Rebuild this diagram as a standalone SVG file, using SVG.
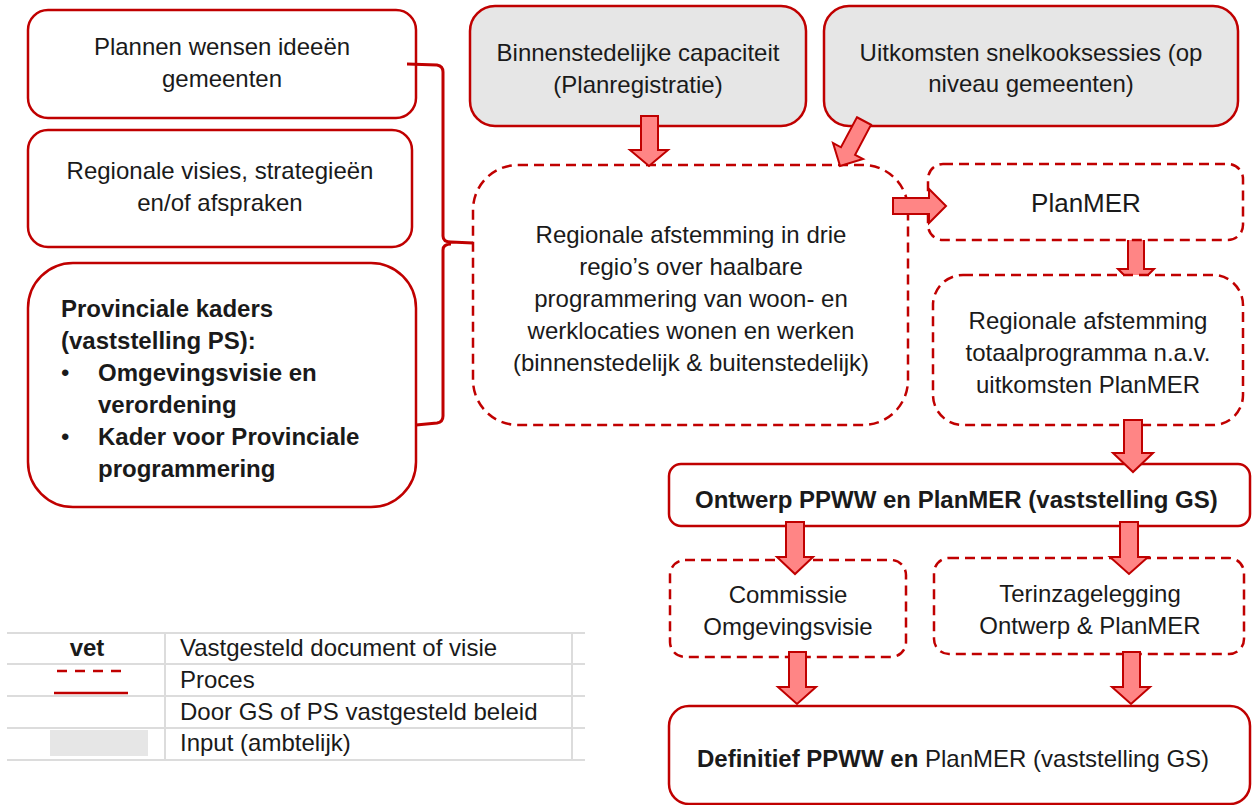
<svg xmlns="http://www.w3.org/2000/svg" width="1252" height="805" viewBox="0 0 1252 805">
<style>
.t{font-family:"Liberation Sans",Arial,sans-serif;font-size:24px;fill:#1a1a1a}
.c{text-anchor:middle}
.b{font-weight:bold}
.solid{fill:#fff;stroke:#c00000;stroke-width:2.5}
.input{fill:#e6e6e6;stroke:#c00000;stroke-width:2.5}
.dash{fill:#fff;stroke:#c00000;stroke-width:2.5;stroke-dasharray:10 6}
.arr{fill:#ff8585;stroke:#c00000;stroke-width:2;stroke-linejoin:miter}
.brace{fill:none;stroke:#c00000;stroke-width:3}
.grid{stroke:#dcdcdc;stroke-width:2}
</style>
<rect width="1252" height="805" fill="#fff"/>

<g id="connectors-under">
<polygon class="arr" points="1128,236 1144,236 1144,269 1154,269 1136,287 1118,269 1128,269"/>
</g>

<g id="n-plannen">
<rect class="solid" x="28" y="10" width="388" height="108" rx="20"/>
<text class="t c" x="222" y="55">Plannen wensen ideeën</text>
<text class="t c" x="222" y="87">gemeenten</text>
</g>
<g id="n-regionale-visies">
<rect class="solid" x="28" y="130" width="384" height="117" rx="20"/>
<text class="t c" x="220" y="179">Regionale visies, strategieën</text>
<text class="t c" x="220" y="211">en/of afspraken</text>
</g>
<g id="n-provinciale">
<rect class="solid" x="28" y="263" width="388" height="244" rx="45"/>
<text class="t b" x="61" y="317">Provinciale kaders</text>
<text class="t b" x="61" y="349">(vaststelling PS):</text>
<text class="t" x="61" y="381">•</text>
<text class="t b" x="98" y="381">Omgevingsvisie en</text>
<text class="t b" x="98" y="413">verordening</text>
<text class="t" x="61" y="445">•</text>
<text class="t b" x="98" y="445">Kader voor Provinciale</text>
<text class="t b" x="98" y="477">programmering</text>
</g>
<g id="n-binnenstedelijk">
<rect class="input" x="470" y="6" width="336" height="120" rx="25"/>
<text class="t c" x="638" y="61">Binnenstedelijke capaciteit</text>
<text class="t c" x="638" y="93">(Planregistratie)</text>
</g>
<g id="n-uitkomsten">
<rect class="input" x="824" y="6" width="414" height="120" rx="25"/>
<text class="t c" x="1031" y="61">Uitkomsten snelkooksessies (op</text>
<text class="t c" x="1031" y="92">niveau gemeenten)</text>
</g>
<g id="n-regionale-afstemming">
<rect class="dash" x="473" y="165" width="435" height="260" rx="45"/>
<text class="t c" x="691" y="243">Regionale afstemming in drie</text>
<text class="t c" x="691" y="275">regio’s over haalbare</text>
<text class="t c" x="691" y="307">programmering van woon- en</text>
<text class="t c" x="691" y="339">werklocaties wonen en werken</text>
<text class="t c" x="691" y="371">(binnenstedelijk &amp; buitenstedelijk)</text>
</g>
<g id="n-planmer">
<rect class="dash" x="928" y="164" width="315" height="76" rx="15"/>
<text class="t c" x="1086" y="212" style="font-size:26px">PlanMER</text>
</g>
<g id="n-totaal">
<rect class="dash" x="933" y="275" width="310" height="150" rx="30"/>
<text class="t c" x="1088" y="329">Regionale afstemming</text>
<text class="t c" x="1088" y="361">totaalprogramma n.a.v.</text>
<text class="t c" x="1088" y="393">uitkomsten PlanMER</text>
</g>
<g id="n-ontwerp">
<rect class="solid" x="669" y="464" width="581" height="62" rx="12"/>
<text class="t b" x="695" y="508">Ontwerp PPWW en PlanMER (vaststelling GS)</text>
</g>
<g id="n-commissie">
<rect class="dash" x="670" y="560" width="236" height="97" rx="15"/>
<text class="t c" x="788" y="603">Commissie</text>
<text class="t c" x="788" y="635">Omgevingsvisie</text>
</g>
<g id="n-terinzage">
<rect class="dash" x="934" y="558" width="310" height="96" rx="15"/>
<text class="t c" x="1090" y="602">Terinzagelegging</text>
<text class="t c" x="1090" y="634">Ontwerp &amp; PlanMER</text>
</g>
<g id="n-definitief">
<rect class="solid" x="669" y="706" width="581" height="98" rx="20"/>
<text class="t" x="697" y="767"><tspan class="b">Definitief PPWW en</tspan> PlanMER (vaststelling GS)</text>
</g>

<g id="connectors">
<path class="brace" d="M407,64 L437,65 Q443,66 443,72 L443,236 Q443,242 451,242 L473,243 M451,244 Q443,244 443,250 L443,416 Q443,422 437,423 L416,425"/>
<polygon class="arr" points="641,116 658,116 658,150 668,150 649,166 630,150 641,150"/>
<polygon class="arr" transform="translate(864,121) rotate(28)" points="-8,0 8,0 8,34 17,34 0,51 -17,34 -8,34"/>
<polygon class="arr" points="893,198 929,198 929,189 946,206 929,223 929,214 893,214"/>
<polygon class="arr" points="1124,420 1142,420 1142,453 1153,453 1133,472 1113,453 1124,453"/>
<polygon class="arr" points="786,522 804,522 804,557 813,557 795,574 777,557 786,557"/>
<polygon class="arr" points="789,652 806,652 806,687 816,687 797,704 778,687 789,687"/>
<polygon class="arr" points="1120,522 1138,522 1138,557 1148,557 1129,574 1110,557 1120,557"/>
<polygon class="arr" points="1123,652 1140,652 1140,687 1150,687 1131,704 1112,687 1123,687"/>
</g>

<g id="legend">
<line class="grid" x1="7" y1="633" x2="585" y2="633"/>
<line class="grid" x1="7" y1="664" x2="585" y2="664"/>
<line class="grid" x1="7" y1="696" x2="585" y2="696"/>
<line class="grid" x1="7" y1="728" x2="585" y2="728"/>
<line class="grid" x1="7" y1="760" x2="585" y2="760"/>
<line class="grid" x1="165" y1="633" x2="165" y2="760"/>
<line class="grid" x1="572" y1="633" x2="572" y2="760"/>
<text class="t b c" x="87" y="656">vet</text>
<line x1="57" y1="671" x2="126" y2="671" stroke="#c00000" stroke-width="2.5" stroke-dasharray="10 8"/>
<line x1="54" y1="693" x2="128" y2="693" stroke="#c00000" stroke-width="2.5"/>
<rect x="50" y="730" width="98" height="26" fill="#e6e6e6"/>
<text class="t" x="180" y="656">Vastgesteld document of visie</text>
<text class="t" x="180" y="688">Proces</text>
<text class="t" x="180" y="720">Door GS of PS vastgesteld beleid</text>
<text class="t" x="180" y="751">Input (ambtelijk)</text>
</g>
</svg>
